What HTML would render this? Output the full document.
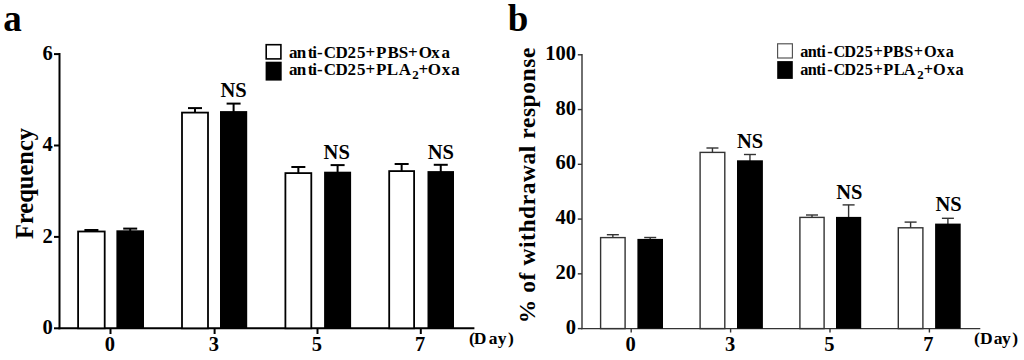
<!DOCTYPE html>
<html><head><meta charset="utf-8"><style>
html,body{margin:0;padding:0;background:#fff;width:1024px;height:360px;overflow:hidden}
svg{display:block}
text{font-family:"Liberation Serif", serif;font-weight:bold;fill:#000}
</style></head><body>
<svg width="1024" height="360" viewBox="0 0 1024 360">
<rect width="1024" height="360" fill="#fff"/>
<text x="3.21" y="30.70" font-size="37" >a</text>
<line x1="59.50" y1="53.10" x2="59.50" y2="329.30" stroke="#000" stroke-width="2.0"/>
<line x1="54.00" y1="328.30" x2="59.50" y2="328.30" stroke="#000" stroke-width="2.0"/>
<text x="52.80" y="334.10" font-size="20.5" text-anchor="end" >0</text>
<line x1="54.00" y1="236.90" x2="59.50" y2="236.90" stroke="#000" stroke-width="2.0"/>
<text x="52.80" y="242.70" font-size="20.5" text-anchor="end" >2</text>
<line x1="54.00" y1="145.50" x2="59.50" y2="145.50" stroke="#000" stroke-width="2.0"/>
<text x="52.80" y="151.30" font-size="20.5" text-anchor="end" >4</text>
<line x1="54.00" y1="54.10" x2="59.50" y2="54.10" stroke="#000" stroke-width="2.0"/>
<text x="52.80" y="59.90" font-size="20.5" text-anchor="end" >6</text>
<line x1="58.50" y1="328.30" x2="474.40" y2="328.30" stroke="#000" stroke-width="2.0"/>
<line x1="110.50" y1="328.30" x2="110.50" y2="334.00" stroke="#000" stroke-width="2.0"/>
<text x="109.80" y="351.00" font-size="20.5" text-anchor="middle" >0</text>
<line x1="214.60" y1="328.30" x2="214.60" y2="334.00" stroke="#000" stroke-width="2.0"/>
<text x="213.90" y="351.00" font-size="20.5" text-anchor="middle" >3</text>
<line x1="317.50" y1="328.30" x2="317.50" y2="334.00" stroke="#000" stroke-width="2.0"/>
<text x="316.80" y="351.00" font-size="20.5" text-anchor="middle" >5</text>
<line x1="420.80" y1="328.30" x2="420.80" y2="334.00" stroke="#000" stroke-width="2.0"/>
<text x="420.10" y="351.00" font-size="20.5" text-anchor="middle" >7</text>
<text x="468.98 473.85 488.73 497.82 508.09" y="343.60" font-size="17.5" >(Day)</text>
<text transform="translate(33.0,183.5) rotate(-90)" font-size="24.5" text-anchor="middle">Frequency</text>
<line x1="91.40" y1="230.00" x2="91.40" y2="231.60" stroke="#000" stroke-width="2.0"/>
<line x1="84.40" y1="230.00" x2="98.40" y2="230.00" stroke="#000" stroke-width="2.0"/>
<rect x="78.10" y="231.50" width="26.60" height="96.80" fill="#fff" stroke="#000" stroke-width="1.8"/>
<line x1="130.20" y1="228.60" x2="130.20" y2="231.30" stroke="#000" stroke-width="2.0"/>
<line x1="123.20" y1="228.60" x2="137.20" y2="228.60" stroke="#000" stroke-width="2.0"/>
<rect x="116.40" y="230.30" width="27.60" height="98.00" fill="#000"/>
<line x1="195.00" y1="108.10" x2="195.00" y2="112.70" stroke="#000" stroke-width="2.0"/>
<line x1="188.00" y1="108.10" x2="202.00" y2="108.10" stroke="#000" stroke-width="2.0"/>
<rect x="182.00" y="112.60" width="26.00" height="215.70" fill="#fff" stroke="#000" stroke-width="1.8"/>
<line x1="233.60" y1="103.60" x2="233.60" y2="112.10" stroke="#000" stroke-width="2.0"/>
<line x1="226.60" y1="103.60" x2="240.60" y2="103.60" stroke="#000" stroke-width="2.0"/>
<rect x="220.00" y="111.10" width="27.20" height="217.20" fill="#000"/>
<line x1="298.35" y1="167.00" x2="298.35" y2="173.20" stroke="#000" stroke-width="2.0"/>
<line x1="291.35" y1="167.00" x2="305.35" y2="167.00" stroke="#000" stroke-width="2.0"/>
<rect x="285.40" y="173.10" width="25.90" height="155.20" fill="#fff" stroke="#000" stroke-width="1.8"/>
<line x1="337.60" y1="165.10" x2="337.60" y2="172.70" stroke="#000" stroke-width="2.0"/>
<line x1="330.60" y1="165.10" x2="344.60" y2="165.10" stroke="#000" stroke-width="2.0"/>
<rect x="324.10" y="171.70" width="27.00" height="156.60" fill="#000"/>
<line x1="401.65" y1="164.00" x2="401.65" y2="171.20" stroke="#000" stroke-width="2.0"/>
<line x1="394.65" y1="164.00" x2="408.65" y2="164.00" stroke="#000" stroke-width="2.0"/>
<rect x="389.20" y="171.10" width="24.90" height="157.20" fill="#fff" stroke="#000" stroke-width="1.8"/>
<line x1="440.75" y1="164.80" x2="440.75" y2="172.10" stroke="#000" stroke-width="2.0"/>
<line x1="433.75" y1="164.80" x2="447.75" y2="164.80" stroke="#000" stroke-width="2.0"/>
<rect x="427.50" y="171.10" width="26.50" height="157.20" fill="#000"/>
<text x="233.50" y="97.10" font-size="20.5" text-anchor="middle" >NS</text>
<text x="336.70" y="158.70" font-size="20.5" text-anchor="middle" >NS</text>
<text x="440.80" y="158.70" font-size="20.5" text-anchor="middle" >NS</text>
<rect x="266.20" y="44.70" width="14.70" height="14.20" fill="#fff" stroke="#000" stroke-width="1.6"/>
<rect x="265.60" y="61.70" width="16.10" height="18.90" fill="#000"/>
<text x="289.05 296.84 307.73 312.33 316.98 323.77 335.50 347.49 356.92 365.40 376.01 387.42 398.70 408.10 418.77 431.23 441.55" y="57.80" font-size="17" >anti-CD25+PBS+Oxa</text>
<text x="289.05 296.84 307.73 312.33 316.98 323.77 335.50 347.49 356.92 365.40 376.11 386.71 398.83" y="75.00" font-size="17" >anti-CD25+PLA</text>
<text x="412.15" y="78.60" font-size="13" >2</text>
<text x="418.40 427.87 441.83 451.35" y="75.00" font-size="17" >+Oxa</text>
<text x="507.83" y="30.70" font-size="37" >b</text>
<line x1="582.00" y1="54.10" x2="582.00" y2="329.30" stroke="#333" stroke-width="1.4"/>
<line x1="577.80" y1="328.60" x2="582.00" y2="328.60" stroke="#333" stroke-width="1.4"/>
<text x="576.00" y="333.60" font-size="20.5" text-anchor="end" >0</text>
<line x1="577.80" y1="273.84" x2="582.00" y2="273.84" stroke="#333" stroke-width="1.4"/>
<text x="576.00" y="278.84" font-size="20.5" text-anchor="end" >20</text>
<line x1="577.80" y1="219.08" x2="582.00" y2="219.08" stroke="#333" stroke-width="1.4"/>
<text x="576.00" y="224.08" font-size="20.5" text-anchor="end" >40</text>
<line x1="577.80" y1="164.32" x2="582.00" y2="164.32" stroke="#333" stroke-width="1.4"/>
<text x="576.00" y="169.32" font-size="20.5" text-anchor="end" >60</text>
<line x1="577.80" y1="109.56" x2="582.00" y2="109.56" stroke="#333" stroke-width="1.4"/>
<text x="576.00" y="114.56" font-size="20.5" text-anchor="end" >80</text>
<line x1="577.80" y1="54.80" x2="582.00" y2="54.80" stroke="#333" stroke-width="1.4"/>
<text x="576.00" y="59.80" font-size="20.5" text-anchor="end" >100</text>
<line x1="581.30" y1="328.60" x2="980.30" y2="328.60" stroke="#333" stroke-width="1.4"/>
<line x1="631.20" y1="328.60" x2="631.20" y2="332.50" stroke="#333" stroke-width="1.4"/>
<text x="630.60" y="350.50" font-size="20.5" text-anchor="middle" >0</text>
<line x1="730.60" y1="328.60" x2="730.60" y2="332.50" stroke="#333" stroke-width="1.4"/>
<text x="730.00" y="350.50" font-size="20.5" text-anchor="middle" >3</text>
<line x1="830.00" y1="328.60" x2="830.00" y2="332.50" stroke="#333" stroke-width="1.4"/>
<text x="829.40" y="350.50" font-size="20.5" text-anchor="middle" >5</text>
<line x1="929.40" y1="328.60" x2="929.40" y2="332.50" stroke="#333" stroke-width="1.4"/>
<text x="928.30" y="350.50" font-size="20.5" text-anchor="middle" >7</text>
<text x="973.98 979.95 993.68 1002.12 1012.29" y="344.30" font-size="17.5" >(Day)</text>
<text transform="translate(534.6,323.2) rotate(-90)" font-size="23.5" letter-spacing="0.56">% of withdrawal response</text>
<line x1="612.85" y1="234.70" x2="612.85" y2="237.90" stroke="#333" stroke-width="1.4"/>
<line x1="606.85" y1="234.70" x2="618.85" y2="234.70" stroke="#333" stroke-width="1.4"/>
<rect x="600.60" y="237.60" width="24.50" height="91.00" fill="#fff" stroke="#333" stroke-width="1.4"/>
<line x1="650.20" y1="237.50" x2="650.20" y2="239.90" stroke="#333" stroke-width="1.4"/>
<line x1="644.20" y1="237.50" x2="656.20" y2="237.50" stroke="#333" stroke-width="1.4"/>
<rect x="637.40" y="238.90" width="25.60" height="89.70" fill="#000"/>
<line x1="712.45" y1="148.00" x2="712.45" y2="152.70" stroke="#333" stroke-width="1.4"/>
<line x1="706.45" y1="148.00" x2="718.45" y2="148.00" stroke="#333" stroke-width="1.4"/>
<rect x="700.10" y="152.40" width="24.70" height="176.20" fill="#fff" stroke="#333" stroke-width="1.4"/>
<line x1="749.95" y1="154.50" x2="749.95" y2="161.30" stroke="#333" stroke-width="1.4"/>
<line x1="743.95" y1="154.50" x2="755.95" y2="154.50" stroke="#333" stroke-width="1.4"/>
<rect x="737.00" y="160.30" width="25.90" height="168.30" fill="#000"/>
<line x1="812.00" y1="215.00" x2="812.00" y2="217.70" stroke="#333" stroke-width="1.4"/>
<line x1="806.00" y1="215.00" x2="818.00" y2="215.00" stroke="#333" stroke-width="1.4"/>
<rect x="799.90" y="217.40" width="24.20" height="111.20" fill="#fff" stroke="#333" stroke-width="1.4"/>
<line x1="848.60" y1="204.90" x2="848.60" y2="217.90" stroke="#333" stroke-width="1.4"/>
<line x1="842.60" y1="204.90" x2="854.60" y2="204.90" stroke="#333" stroke-width="1.4"/>
<rect x="836.00" y="216.90" width="25.20" height="111.70" fill="#000"/>
<line x1="910.60" y1="222.10" x2="910.60" y2="228.10" stroke="#333" stroke-width="1.4"/>
<line x1="904.60" y1="222.10" x2="916.60" y2="222.10" stroke="#333" stroke-width="1.4"/>
<rect x="898.30" y="227.80" width="24.60" height="100.80" fill="#fff" stroke="#333" stroke-width="1.4"/>
<line x1="947.90" y1="218.30" x2="947.90" y2="224.60" stroke="#333" stroke-width="1.4"/>
<line x1="941.90" y1="218.30" x2="953.90" y2="218.30" stroke="#333" stroke-width="1.4"/>
<rect x="935.10" y="223.60" width="25.60" height="105.00" fill="#000"/>
<text x="750.00" y="148.20" font-size="20.5" text-anchor="middle" >NS</text>
<text x="849.40" y="198.70" font-size="20.5" text-anchor="middle" >NS</text>
<text x="948.50" y="211.10" font-size="20.5" text-anchor="middle" >NS</text>
<rect x="777.6" y="43.8" width="14.8" height="14.2" fill="#fff" stroke="#505050" stroke-width="1.15"/>
<rect x="777.20" y="61.10" width="15.60" height="17.80" fill="#000"/>
<text x="800.27 807.86 816.24 821.14 827.20 833.40 844.31 856.02 864.85 873.44 883.12 892.93 904.13 913.74 924.10 936.84 945.77" y="57.40" font-size="16.3" >anti-CD25+PBS+Oxa</text>
<text x="800.27 807.86 816.24 821.14 827.20 833.40 844.31 856.02 864.85 873.44 883.22 893.72 903.84" y="74.90" font-size="16.3" >anti-CD25+PLA</text>
<text x="917.36" y="78.70" font-size="12.8" >2</text>
<text x="923.84 932.90 946.84 955.47" y="74.90" font-size="16.3" >+Oxa</text>
</svg>
</body></html>
